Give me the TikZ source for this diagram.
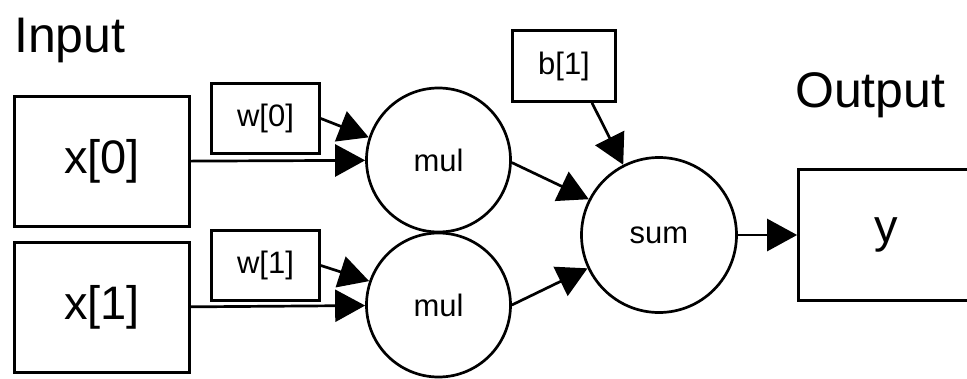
\documentclass[tikz,border=0pt]{standalone}
\usepackage{fontspec}
\setmainfont{Liberation Sans}
\usetikzlibrary{arrows.meta}
\begin{document}
\begin{tikzpicture}[x=1pt,y=-1pt,
  box/.style={draw, line width=2.7pt, rectangle, inner sep=0pt,
    minimum width=175pt, minimum height=130pt, font=\fontsize{47}{50}\selectfont},
  wbox/.style={draw, line width=2.7pt, rectangle, inner sep=0pt,
    minimum width=108pt, minimum height=70pt, font=\fontsize{31}{34}\selectfont},
  op/.style={draw, line width=2.7pt, circle, inner sep=0pt,
    minimum size=144pt, font=\fontsize{31}{34}\selectfont},
  title/.style={anchor=base west, inner sep=0pt, font=\fontsize{50}{54}\selectfont},
  conn/.style={line width=2.7pt, -{Triangle[length=30pt,width=32pt]}}]
\useasboundingbox (0,0) rectangle (967,378);
\clip (0,0) rectangle (967,378);

% headings
\node[title] (intitle) at (14,52) {Input};
\node[title] (outtitle) at (795,107) {Output};

% inputs and weights
\node[box] (x0) at (102,161.5) {x[0]};
\node[box] (x1) at (102,307.5) {x[1]};
\node[wbox] (w0) at (265.5,118.5) {w[0]};
\node[wbox] (w1) at (265.5,265.5) {w[1]};
\node[wbox, minimum width=103pt, minimum height=71pt] (b1) at (564,66) {b[1]};

% operations
\node[op] (mul0) at (438.5,160) {mul};
\node[op] (mul1) at (438.5,305) {mul};
\node[op, minimum size=155pt] (sum) at (659,235) {sum};

% output
\node[box, minimum height=131pt] (y) at (886,235) {y};

% connectors
\draw[conn] (x0) -- (mul0);
\draw[conn] (w0.east) -- (mul0.162);
\draw[conn] (x1) -- (mul1);
\draw[conn] (w1.east) -- (mul1.161);
\draw[conn] (mul0.-2) -- (sum.153);
\draw[conn] (mul1.east) -- (sum.205);
\draw[conn] ([xshift=28pt]b1.south) -- (sum.117);
\draw[conn] (sum) -- (y);
\end{tikzpicture}
\end{document}
